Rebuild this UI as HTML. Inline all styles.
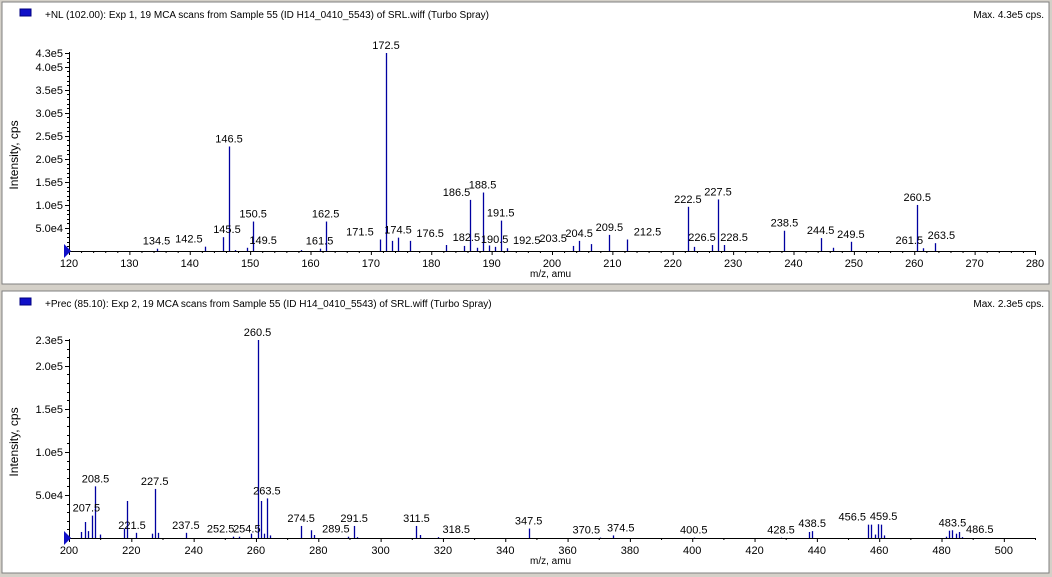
<!DOCTYPE html>
<html><head><meta charset="utf-8"><style>
html,body{margin:0;padding:0;background:#d4d0c8;}
svg{display:block;font-family:"Liberation Sans",Arial,sans-serif;}
</style></head><body>
<svg id="c" width="1052" height="577"></svg>
<script>
// ---- Panel 1 data (NL 102.00) ----
const p1Mz = [134.5,142.5,145.5,146.5,147.5,149.5,150.5,158.5,161.5,162.5,171.5,172.5,173.5,174.5,176.5,182.5,185.5,186.5,187.5,188.5,189.5,190.5,191.5,192.5,203.5,204.5,206.5,209.5,212.5,222.5,223.5,226.5,227.5,228.5,238.5,244.5,246.5,249.5,260.5,261.5,263.5];
const p1Int = [5000,9400,30000,227000,2000,7000,64000,2000,5000,64000,25000,430000,22000,29000,22000,13000,11000,111000,7000,127000,12000,9000,66000,6000,11000,22000,15000,35000,25000,96000,9000,13000,112000,13000,44000,28000,7000,20000,100000,6000,17000];
const p1Labels = [134.5,142.5,145.5,146.5,149.5,150.5,161.5,162.5,171.5,172.5,174.5,176.5,182.5,186.5,188.5,190.5,191.5,192.5,203.5,204.5,209.5,212.5,222.5,226.5,227.5,228.5,238.5,244.5,249.5,260.5,261.5,263.5];
const p1YTicks = [50000,100000,150000,200000,250000,300000,350000,400000,430000];
const p1YTickLabels = ["5.0e4","1.0e5","1.5e5","2.0e5","2.5e5","3.0e5","3.5e5","4.0e5","4.3e5"];
// ---- Panel 2 data (Prec 85.10) ----
const p2Mz = [204,205,206,207.5,208.5,210,217.5,218.5,221.5,226.5,227.5,228.5,237.5,252.5,254.5,258.5,260.5,261.5,262.5,263.5,264.5,274.5,277.5,278.5,289.5,291.5,292.5,311.5,312.5,318.5,347.5,370.5,374.5,400.5,428.5,437.5,438.5,456.5,457.5,458.5,459.5,460.5,461.5,481.5,482.5,483.5,484.5,485.5,486.5];
const p2Int = [7000,18600,8000,26000,60000,4000,11000,43000,6000,5000,57000,6000,6000,1500,1500,5000,230000,43000,5000,46000,3000,14000,9000,3500,1500,14000,1000,14000,3500,1000,11000,500,3000,400,400,7000,8000,15500,15500,4000,16000,15500,3000,1500,8500,9000,5000,7000,1000];
const p2Labels = [207.5,208.5,221.5,227.5,237.5,252.5,254.5,260.5,263.5,274.5,289.5,291.5,311.5,318.5,347.5,370.5,374.5,400.5,428.5,438.5,456.5,459.5,483.5,486.5];
const p2YTicks = [50000,100000,150000,200000,230000];
const p2YTickLabels = ["5.0e4","1.0e5","1.5e5","2.0e5","2.3e5"];

// label offsets (style only): dx, dy
const off1 = {142.5:[-16,0],145.5:[4,0],149.5:[16,0],171.5:[-20,0],176.5:[20,0],182.5:[20,0],186.5:[-14,0],192.5:[20,0],203.5:[-20,0],212.5:[20,0],226.5:[-10,0],228.5:[10,0],261.5:[-14,0],263.5:[6,0],161.5:[0,0]};
const off2 = {252.5:[-12,0],254.5:[8,0],289.5:[-12,0],318.5:[18,0],370.5:[-14,0],374.5:[8,0],456.5:[-16,0],459.5:[6,0],486.5:[18,0],207.5:[-6,0],221.5:[-4,0]};

const svg = document.getElementById('c');
const NS = 'http://www.w3.org/2000/svg';
function mk(tag, attrs, parent){const e=document.createElementNS(NS,tag);for(const k in attrs)e.setAttribute(k,attrs[k]);(parent||svg).appendChild(e);return e;}

function panel(cfg){
  const g = mk('g',{});
  
  
  // frame
  const fr = mk('rect',{x:2,y:cfg.top-1,width:1047,height:282,fill:'#fff',stroke:'#808080','stroke-width':1},g);
  
  
  const sq = mk('rect',{x:20,y:cfg.top+6,width:11,height:7,fill:'#1010c8',stroke:'#000080'},g);
  
  
  const tt = mk('text',{x:45,y:cfg.top+15,'font-size':10},g); tt.textContent = cfg.title;
  
  
  const mx = mk('text',{x:1044,y:cfg.top+15,'font-size':10,'text-anchor':'end'},g); mx.textContent = cfg.max;
  
  
  const base = cfg.base, x0=69, x1=1035;
  const X = v => x0 + (v - cfg.xmin)/(cfg.xmax - cfg.xmin)*(x1-x0);
  const Y = v => base - v/cfg.ymax*198;
  // axes
  const xa = mk('line',{x1:x0,y1:base+0.5,x2:x1,y2:base+0.5,stroke:'#000'},g);
   
  const ya = mk('line',{x1:x0+0.5,y1:base,x2:x0+0.5,y2:Y(cfg.ymax)-1,stroke:'#000'},g);
   
  // x ticks
  for(let v=cfg.xmin; v<=cfg.xmax+1e-9; v+=cfg.minor){
    const major = Math.abs((v-cfg.xmin)%cfg.major)<1e-6;
    mk('line',{x1:X(v)+0.5,y1:base,x2:X(v)+0.5,y2:base+(major?4:2),stroke:'#000'},g);
    if(major){
      const t = mk('text',{x:X(v),y:base+16,'font-size':11,'text-anchor':'middle'},g); t.textContent=v;
       
    }
  }
  // y ticks
  const step = cfg.ymax/ 40;
  for(let v=cfg.yMinorStep; v<=cfg.ymax; v+=cfg.yMinorStep){
    mk('line',{x1:x0-2,y1:Math.round(Y(v))+0.5,x2:x0,y2:Math.round(Y(v))+0.5,stroke:'#000'},g);
  }
  cfg.yTicks.forEach((v,i)=>{
    mk('line',{x1:x0-4,y1:Math.round(Y(v))+0.5,x2:x0,y2:Math.round(Y(v))+0.5,stroke:'#000'},g);
    const t = mk('text',{x:x0-6,y:Y(v)+4,'font-size':11,'text-anchor':'end'},g); t.textContent=cfg.yLabels[i];
     
  });
  const tri = mk('polygon',{points:`${x0-5},${base-7} ${x0+2},${base} ${x0-5},${base+7}`,fill:'#1010c8'},g);
   
  // axis titles
  const xt = mk('text',{x:530,y:base+26,'font-size':10},g); xt.textContent='m/z, amu';
   
  const yt = mk('text',{x:0,y:0,'font-size':12,'text-anchor':'middle',transform:`translate(18,${base-96}) rotate(-90)`},g); yt.textContent='Intensity, cps';
   
  // bars
  cfg.mz.forEach((m,i)=>{
    const b = mk('line',{x1:Math.round(X(m))+0.5,y1:base,x2:Math.round(X(m))+0.5,y2:Y(cfg.int[i]),stroke:'#0000a0','stroke-width':1.3},g);
    
    
  });
  cfg.labels.forEach(m=>{
    const i = cfg.mz.indexOf(m); if(i<0) return;
    const o = cfg.off[m]||[0,0];
    const t = mk('text',{x:X(m)+o[0],y:Y(cfg.int[i])-4+o[1],'font-size':11,'text-anchor':'middle'},g);
    t.textContent = m.toFixed(1);
    
    
  });
}
panel({name:'nl-spectrum-panel',top:3,base:251,title:'+NL (102.00): Exp 1, 19 MCA scans from Sample 55 (ID H14_0410_5543) of SRL.wiff (Turbo Spray)',max:'Max. 4.3e5 cps.',
  xmin:120,xmax:280,major:10,minor:2,ymax:430000,yMinorStep:10000,yTicks:p1YTicks,yLabels:p1YTickLabels,mz:p1Mz,int:p1Int,labels:p1Labels,off:off1});
panel({name:'prec-spectrum-panel',top:292,base:538,title:'+Prec (85.10): Exp 2, 19 MCA scans from Sample 55 (ID H14_0410_5543) of SRL.wiff (Turbo Spray)',max:'Max. 2.3e5 cps.',
  xmin:200,xmax:510,major:20,minor:10,ymax:230000,yMinorStep:10000,yTicks:p2YTicks,yLabels:p2YTickLabels,mz:p2Mz,int:p2Int,labels:p2Labels,off:off2});
</script>
</body></html>
